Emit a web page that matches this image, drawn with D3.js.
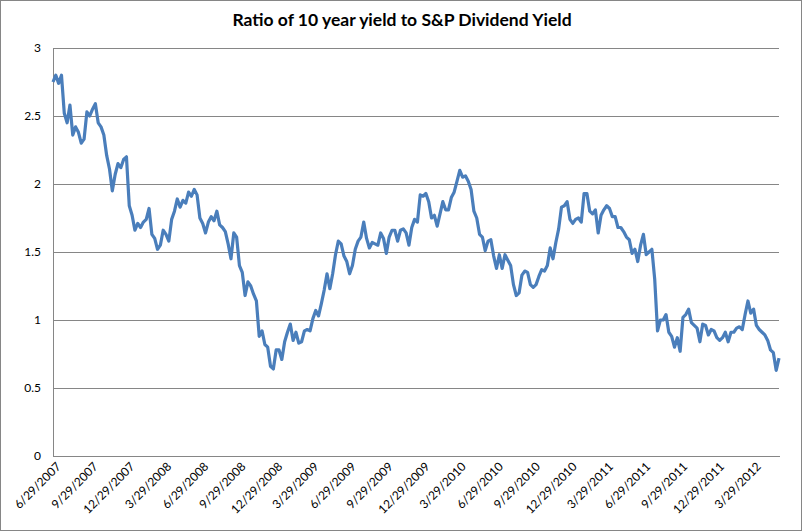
<!DOCTYPE html>
<html>
<head>
<meta charset="utf-8">
<script src="https://cdn.jsdelivr.net/npm/d3@7"></script>
<style>
  body { margin: 0; background: #fff; }
  svg text { font-family: Lato, "Liberation Sans", sans-serif; fill: #000; }
  .title { font-weight: bold; font-size: 17.5px; }
  .axis text { font-size: 12px; }
</style>
</head>
<body>
<script>
// weekly readings of the ratio (Fridays), starting 6/29/2007
var startDay = "6/29/2007";
var ratio = [
  2.75, 2.80, 2.74, 2.80, 2.52, 2.45, 2.58, 2.36, 2.42, 2.38,
  2.30, 2.33, 2.53, 2.50, 2.55, 2.59, 2.45, 2.42, 2.36, 2.21,
  2.11, 1.95, 2.07, 2.15, 2.12, 2.18, 2.20, 1.84, 1.77, 1.66,
  1.71, 1.68, 1.72, 1.74, 1.82, 1.63, 1.60, 1.52, 1.55, 1.66,
  1.63, 1.58, 1.74, 1.80, 1.89, 1.83, 1.88, 1.86, 1.94, 1.91,
  1.96, 1.92, 1.75, 1.71, 1.64, 1.72, 1.76, 1.73, 1.80, 1.70,
  1.68, 1.65, 1.56, 1.45, 1.64, 1.61, 1.40, 1.35, 1.18, 1.28,
  1.25, 1.19, 1.14, 0.88, 0.92, 0.82, 0.80, 0.66, 0.64, 0.78,
  0.78, 0.71, 0.84, 0.91, 0.97, 0.85, 0.91, 0.83, 0.84, 0.92,
  0.93, 0.92, 1.01, 1.07, 1.03, 1.12, 1.22, 1.34, 1.23, 1.34,
  1.48, 1.58, 1.56, 1.47, 1.43, 1.34, 1.40, 1.52, 1.58, 1.61,
  1.72, 1.60, 1.53, 1.57, 1.56, 1.55, 1.64, 1.60, 1.49, 1.61,
  1.66, 1.66, 1.58, 1.66, 1.67, 1.64, 1.55, 1.68, 1.74, 1.72,
  1.92, 1.91, 1.93, 1.87, 1.75, 1.77, 1.69, 1.78, 1.87, 1.81,
  1.81, 1.90, 1.94, 2.02, 2.10, 2.05, 2.06, 2.02, 1.96, 1.80,
  1.75, 1.63, 1.61, 1.51, 1.58, 1.59, 1.47, 1.38, 1.48, 1.38,
  1.48, 1.44, 1.40, 1.26, 1.18, 1.20, 1.33, 1.36, 1.35, 1.26,
  1.24, 1.26, 1.32, 1.37, 1.36, 1.40, 1.53, 1.45, 1.57, 1.67,
  1.83, 1.84, 1.87, 1.74, 1.71, 1.74, 1.75, 1.72, 1.93, 1.93,
  1.80, 1.78, 1.81, 1.64, 1.77, 1.81, 1.84, 1.82, 1.76, 1.76,
  1.68, 1.68, 1.65, 1.61, 1.59, 1.49, 1.52, 1.43, 1.55, 1.63,
  1.48, 1.50, 1.52, 1.30, 0.92, 1.00, 1.00, 1.04, 0.91, 0.88,
  0.80, 0.87, 0.77, 1.02, 1.04, 1.08, 0.98, 0.96, 0.94, 0.84,
  0.97, 0.96, 0.89, 0.93, 0.92, 0.87, 0.85, 0.87, 0.91, 0.84,
  0.91, 0.91, 0.94, 0.95, 0.93, 1.04, 1.14, 1.05, 1.08, 0.96,
  0.93, 0.91, 0.89, 0.85, 0.78, 0.76, 0.63, 0.72
];
var xLabels = ["6/29/2007", "9/29/2007", "12/29/2007", "3/29/2008", "6/29/2008",
  "9/29/2008", "12/29/2008", "3/29/2009", "6/29/2009", "9/29/2009", "12/29/2009",
  "3/29/2010", "6/29/2010", "9/29/2010", "12/29/2010", "3/29/2011", "6/29/2011",
  "9/29/2011", "12/29/2011", "3/29/2012"];
var yTicks = [0, 0.5, 1, 1.5, 2, 2.5, 3];

var W = 806, H = 532;
var margin = {top: 48, right: 27, bottom: 76, left: 53};
var w = W - margin.left - margin.right,
    h = H - margin.top - margin.bottom;

var parse = d3.timeParse("%m/%d/%Y");
var t0 = parse(startDay);
var data = ratio.map(function(v, i) { return {date: d3.timeWeek.offset(t0, i), value: v}; });

var svg = d3.select("body").append("svg")
    .attr("width", W)
    .attr("height", H);

// chart area border
svg.append("rect")
   .attr("x", 0.5).attr("y", 0.5)
   .attr("width", 801).attr("height", 530)
   .attr("fill", "#fff")
   .attr("stroke", "#868686");

svg.append("text")
   .attr("class", "title")
   .attr("x", 402)
   .attr("y", 26)
   .attr("text-anchor", "middle")
   .text("Ratio of 10 year yield to S&P Dividend Yield");

var g = svg.append("g")
   .attr("transform", "translate(" + margin.left + "," + margin.top + ")");

var x = d3.scaleTime()
    .domain([data[0].date, data[data.length - 1].date])
    .range([0, w]);
var y = d3.scaleLinear()
    .domain([0, 3])
    .range([h, 0]);

// gridlines
g.append("g")
   .attr("class", "grid")
   .call(d3.axisLeft(y).tickValues(yTicks.slice(1)).tickSize(-w).tickFormat(""))
   .call(function(s) {
     s.select(".domain").remove();
     s.selectAll("line").attr("stroke", "#868686").attr("shape-rendering", "crispEdges");
   });

// y axis
g.append("g")
   .attr("class", "axis")
   .call(d3.axisLeft(y).tickValues(yTicks).tickSize(0).tickPadding(12).tickFormat(d3.format("")))
   .call(function(s) {
     s.select(".domain").attr("stroke", "#868686").attr("shape-rendering", "crispEdges");
   });

// x axis
g.append("g")
   .attr("class", "axis")
   .attr("transform", "translate(0," + h + ")")
   .call(d3.axisBottom(x).tickValues(xLabels.map(parse)).tickSize(0)
     .tickFormat(function(d, i) { return xLabels[i]; }))
   .call(function(s) {
     s.select(".domain").attr("stroke", "#868686").attr("shape-rendering", "crispEdges");
     s.selectAll("text")
      .attr("text-anchor", "end")
      .attr("dx", "-0.2em")
      .attr("dy", "0.9em")
      .attr("transform", "rotate(-45)");
   });

var line = d3.line()
    .x(function(d) { return x(d.date); })
    .y(function(d) { return y(d.value); });

g.append("path")
   .datum(data)
   .attr("fill", "none")
   .attr("stroke", "#4a7ebb")
   .attr("stroke-width", 3.2)
   .attr("stroke-linejoin", "round")
   .attr("d", line);
</script>
</body>
</html>
